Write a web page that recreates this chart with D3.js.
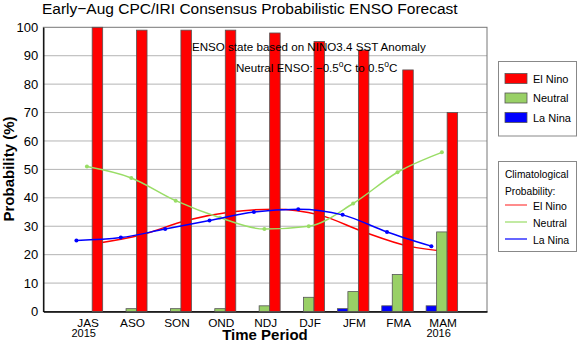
<!DOCTYPE html>
<html><head><meta charset="utf-8">
<script src="https://cdn.jsdelivr.net/npm/d3@7"></script>
<style>
html,body{margin:0;padding:0;background:#fff;}
svg{display:block;font-family:"Liberation Sans",Arial,sans-serif;}
</style></head>
<body><svg id="c" width="577" height="342"></svg>
<script>
const categories = ["JAS","ASO","SON","OND","NDJ","DJF","JFM","FMA","MAM"];
const yearLabels = [{cat:"JAS", year:"2015"}, {cat:"MAM", year:"2016"}];
const elNino  = [100, 99, 99, 99, 98, 95, 92, 85, 70];
const neutral = [0, 1, 1, 1, 2, 5, 7, 13, 28];
const laNina  = [0, 0, 0, 0, 0, 0, 1, 2, 2];
const climElNino  = [24, 27, 32, 35, 36, 34, 28, 23, 21];
const climNeutral = [51, 47, 39, 33, 29, 30, 38, 49, 56];
const climLaNina  = [25, 26, 29, 32, 35, 36, 34, 28, 23];
const yTicks = [0,10,20,30,40,50,60,70,80,90,100];

const RED = "#ff0000", GREEN = "#99d066", GREENLINE = "#99dd66", BLUE = "#0000ff";

const svg = d3.select("#c");
const L = 43.3, R = 487, T = 27.3, B = 311.5;
const x = d3.scaleLinear().domain([0, categories.length + 1]).range([L, R]);
const y = d3.scaleLinear().domain([0, 100]).range([B, T]);
const cx = i => x(i + 1);
const bw = 10.5;
const offs = {la: -16.5, ne: -6, el: 4.5};

// gridlines
svg.append("g").selectAll("line").data(yTicks.filter(v => v > 0 && v < 100)).join("line")
  .attr("x1", L).attr("x2", R).attr("y1", d => y(d)).attr("y2", d => y(d))
  .attr("stroke", "#b4b4b4").attr("stroke-width", 1);

// frame
svg.append("rect").attr("x", L).attr("y", T).attr("width", R - L).attr("height", B - T)
  .attr("fill", "none").attr("stroke", "#777").attr("stroke-width", 1);

// y axis
const yAxis = d3.axisLeft(y).tickValues(yTicks).tickSize(0).tickPadding(5);
const gy = svg.append("g").attr("transform", `translate(${L},0)`).call(yAxis);
gy.select(".domain").attr("stroke", "#000").attr("stroke-width", 1.3);
gy.selectAll("text").attr("font-size", 13).attr("font-family", "Liberation Sans, Arial, sans-serif").attr("fill", "#000");

// x axis
const xAxis = d3.axisBottom(x).tickValues(categories.map((c, i) => i + 1))
  .tickFormat((d) => categories[d - 1]).tickSize(0).tickPadding(6);
const gx = svg.append("g").attr("transform", `translate(0,${B})`).call(xAxis);
gx.select(".domain").attr("stroke", "#000").attr("stroke-width", 1.3);
gx.selectAll("text").attr("font-size", 11.8).attr("dy", null).attr("y", 15)
  .attr("font-family", "Liberation Sans, Arial, sans-serif").attr("fill", "#000");

// year labels
svg.append("g").selectAll("text").data(yearLabels).join("text")
  .attr("x", d => cx(categories.indexOf(d.cat)) - 4).attr("y", 337)
  .attr("text-anchor", "middle").attr("font-size", 11).text(d => d.year);

// lines (drawn under bars)
const lineGen = (off) => d3.line().x((d, i) => cx(i) + off).y(d => y(d)).curve(d3.curveMonotoneX);
const cl = svg.append("g");
cl.append("path").datum(climElNino).attr("d", lineGen(offs.el + bw/2)).attr("fill", "none").attr("stroke", RED).attr("stroke-width", 1.5);

// bars
const bars = svg.append("g");
function drawBars(vals, off, color) {
  bars.append("g").selectAll("rect").data(vals.map((v, i) => ({v, i})).filter(d => d.v > 0)).join("rect")
    .attr("x", d => cx(d.i) + off).attr("width", bw)
    .attr("y", d => y(d.v)).attr("height", d => B - y(d.v))
    .attr("fill", color).attr("stroke", "#555").attr("stroke-width", 0.8);
}
drawBars(laNina, offs.la, BLUE);
drawBars(neutral, offs.ne, GREEN);
drawBars(elNino, offs.el, RED);

// neutral and la nina climatological lines over bars
const overG = svg.append("g");
overG.append("path").datum(climNeutral).attr("d", lineGen(offs.ne + bw/2)).attr("fill", "none").attr("stroke", GREENLINE).attr("stroke-width", 1.5);
overG.selectAll("circle.n").data(climNeutral).join("circle").attr("class", "n")
  .attr("cx", (d, i) => cx(i) + offs.ne + bw/2).attr("cy", d => y(d)).attr("r", 2).attr("fill", GREENLINE);
overG.append("path").datum(climLaNina).attr("d", lineGen(offs.la + bw/2)).attr("fill", "none").attr("stroke", BLUE).attr("stroke-width", 1.5);
overG.selectAll("circle.l").data(climLaNina).join("circle").attr("class", "l")
  .attr("cx", (d, i) => cx(i) + offs.la + bw/2).attr("cy", d => y(d)).attr("r", 2).attr("fill", BLUE);

// titles
svg.append("text").attr("x", 42).attr("y", 14).attr("font-size", 15.5).text("Early\u2212Aug CPC/IRI Consensus Probabilistic ENSO Forecast");
svg.append("text").attr("x", 265).attr("y", 340).attr("text-anchor", "middle").attr("font-size", 15).attr("font-weight", "bold").text("Time Period");
svg.append("text").attr("transform", "translate(14,169) rotate(-90)").attr("text-anchor", "middle")
  .attr("font-size", 15).attr("font-weight", "bold").text("Probability (%)");

// annotation
svg.append("text").attr("x", 192).attr("y", 51).attr("font-size", 11.6).text("ENSO state based on NINO3.4 SST Anomaly");
const t2 = svg.append("text").attr("x", 236).attr("y", 72).attr("font-size", 11.6);
t2.append("tspan").text("Neutral ENSO: \u22120.5");
t2.append("tspan").attr("dy", -5).attr("font-size", 8.5).text("o");
t2.append("tspan").attr("dy", 5).text("C to 0.5");
t2.append("tspan").attr("dy", -5).attr("font-size", 8.5).text("o");
t2.append("tspan").attr("dy", 5).text("C");

// legend 1
const lg1 = svg.append("g");
lg1.append("rect").attr("x", 498.5).attr("y", 61.5).attr("width", 78).attr("height", 74.5)
  .attr("fill", "#fff").attr("stroke", "#888");
const items = [{n:"El Nino", c:RED}, {n:"Neutral", c:GREEN}, {n:"La Nina", c:BLUE}];
lg1.selectAll("rect.k").data(items).join("rect").attr("class", "k")
  .attr("x", 505).attr("y", (d, i) => 73.5 + i * 19.5).attr("width", 22).attr("height", 10)
  .attr("fill", d => d.c).attr("stroke", "#555").attr("stroke-width", 0.8);
lg1.selectAll("text").data(items).join("text")
  .attr("x", 533).attr("y", (d, i) => 82.5 + i * 19.5).attr("font-size", 11).text(d => d.n);

// legend 2
const lg2 = svg.append("g");
lg2.append("rect").attr("x", 498.5).attr("y", 161.5).attr("width", 78).attr("height", 90)
  .attr("fill", "#fff").attr("stroke", "#888");
lg2.append("text").attr("x", 505).attr("y", 178).attr("font-size", 10.2).text("Climatological");
lg2.append("text").attr("x", 505).attr("y", 195).attr("font-size", 10.2).text("Probability:");
const items2 = [{n:"El Nino", c:"#ff4040"}, {n:"Neutral", c:GREENLINE}, {n:"La Nina", c:BLUE}];
lg2.selectAll("line").data(items2).join("line")
  .attr("x1", 505).attr("x2", 527).attr("y1", (d, i) => 205 + i * 17).attr("y2", (d, i) => 205 + i * 17)
  .attr("stroke", d => d.c).attr("stroke-width", 1.2);
lg2.selectAll("text.k").data(items2).join("text").attr("class", "k")
  .attr("x", 533).attr("y", (d, i) => 209.5 + i * 17).attr("font-size", 10.5).text(d => d.n);
</script></body></html>
